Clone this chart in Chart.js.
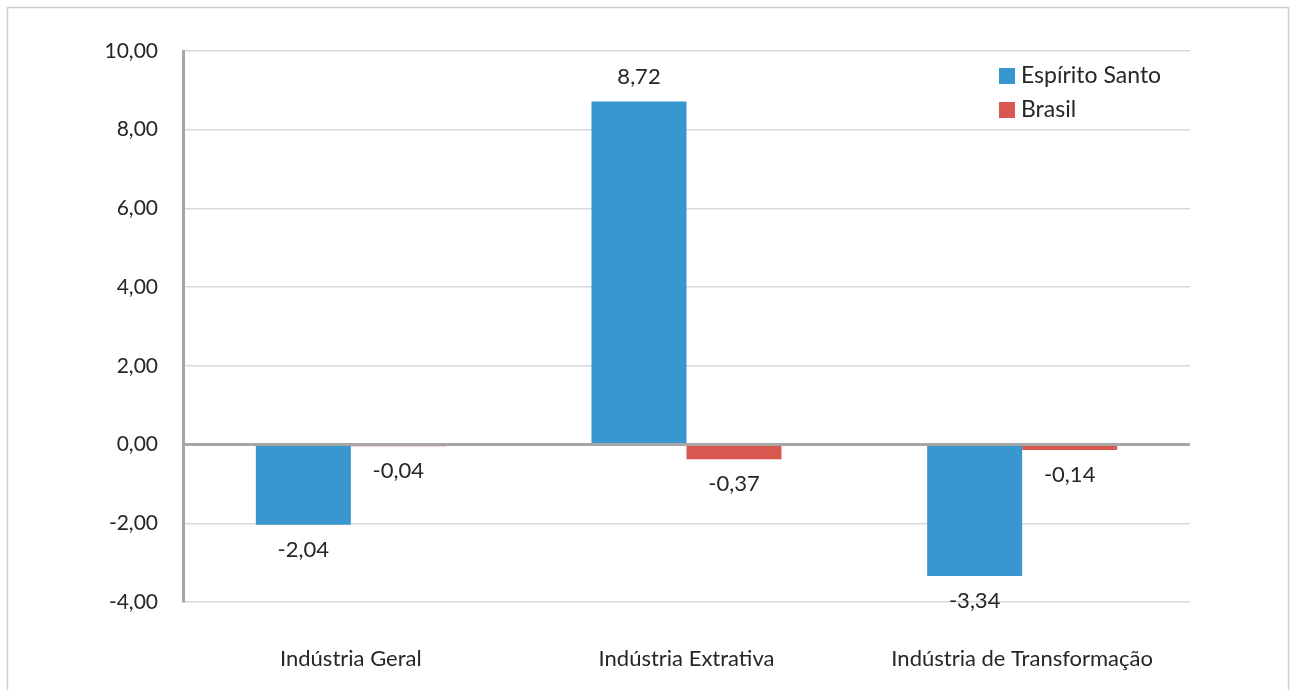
<!DOCTYPE html>
<html>
<head>
<meta charset="utf-8">
<script src="https://cdn.jsdelivr.net/npm/chart.js@4/dist/chart.umd.min.js"></script>
<style>
    body { margin: 0; background: #fff; }
    canvas { display: block; }
</style>
</head>
<body>
<canvas id="myChart" width="1293" height="690"></canvas>
<script>
// data
const categories = ['Indústria Geral', 'Indústria Extrativa', 'Indústria de Transformação'];
const espiritoSanto = [-2.04, 8.72, -3.34];
const brasil = [-0.04, -0.37, -0.14];
const seriesNames = ['Espírito Santo', 'Brasil'];
const seriesColors = ['#3797CE', '#D8574F'];

const fontFamily = 'Lato, "Open Sans", sans-serif';
const textColor = '#262626';

function fmt(v) {
    return v.toFixed(2).replace('.', ',');
}

// frame around the whole figure
const framePlugin = {
    id: 'frame',
    beforeDraw(chart) {
        const ctx = chart.ctx;
        ctx.save();
        ctx.strokeStyle = '#d0d0d0';
        ctx.lineWidth = 1.5;
        ctx.strokeRect(7.5, 7.5, 1281, 700);
        ctx.restore();
    }
};

// value labels at the end of each bar
const valueLabels = {
    id: 'valueLabels',
    afterDatasetsDraw(chart) {
        const ctx = chart.ctx;
        ctx.save();
        ctx.font = '22px ' + fontFamily;
        ctx.fillStyle = textColor;
        ctx.textAlign = 'center';
        ctx.textBaseline = 'middle';
        chart.data.datasets.forEach((ds, i) => {
            const meta = chart.getDatasetMeta(i);
            meta.data.forEach((bar, j) => {
                const v = ds.data[j];
                const y = v >= 0 ? bar.y - 24 : bar.y + 25;
                ctx.fillText(fmt(v), bar.x, y);
            });
        });
        ctx.restore();
    }
};

// legend drawn inside the plot area, top right
const sideLegend = {
    id: 'sideLegend',
    afterDraw(chart) {
        const ctx = chart.ctx;
        ctx.save();
        ctx.font = '23px ' + fontFamily;
        ctx.textBaseline = 'middle';
        chart.data.datasets.forEach((ds, i) => {
            const y = 76 + i * 34;
            ctx.fillStyle = ds.backgroundColor;
            ctx.fillRect(999, y - 8, 16, 16);
            ctx.fillStyle = textColor;
            ctx.fillText(ds.label, 1021, y);
        });
        ctx.restore();
    }
};

const ctx = document.getElementById('myChart').getContext('2d');

const chart = new Chart(ctx, {
    type: 'bar',
    data: {
        labels: categories,
        datasets: [
            { label: seriesNames[0], data: espiritoSanto, backgroundColor: seriesColors[0] },
            { label: seriesNames[1], data: brasil, backgroundColor: seriesColors[1] }
        ]
    },
    options: {
        responsive: false,
        animation: false,
        categoryPercentage: 0.566,
        barPercentage: 1.0,
        layout: { padding: { left: 0, top: 51, right: 103, bottom: 0 } },
        plugins: {
            legend: { display: false },
            tooltip: { enabled: false }
        },
        scales: {
            x: {
                grid: { display: false, drawTicks: false },
                border: { display: false },
                ticks: {
                    color: textColor,
                    font: { family: fontFamily, size: 22 },
                    padding: 44,
                    maxRotation: 0
                },
                afterFit(scale) { scale.height = 88; }
            },
            y: {
                min: -4,
                max: 10,
                ticks: {
                    stepSize: 2,
                    color: textColor,
                    font: { family: fontFamily, size: 21 },
                    padding: 25,
                    callback: (v) => fmt(v)
                },
                grid: {
                    drawTicks: false,
                    color: (c) => c.tick && c.tick.value === 0 ? '#a6a6a6' : '#d9d9d9',
                    lineWidth: (c) => c.tick && c.tick.value === 0 ? 3 : 1.5
                },
                border: { display: true, color: '#a6a6a6', width: 3 },
                afterFit(scale) { scale.width = 183; }
            }
        }
    },
    plugins: [framePlugin, valueLabels, sideLegend]
});
</script>
</body>
</html>
